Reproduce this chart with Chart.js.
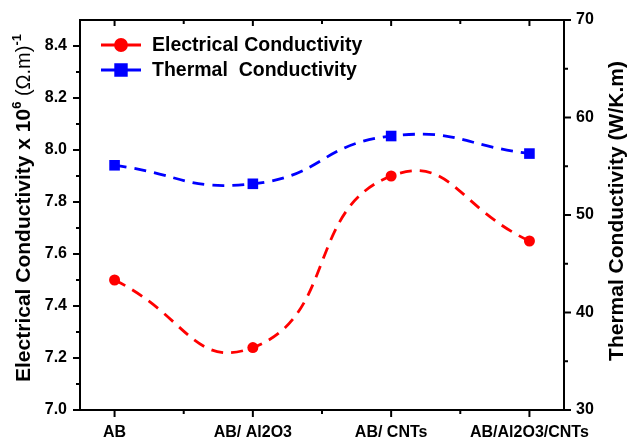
<!DOCTYPE html>
<html>
<head>
<meta charset="utf-8">
<script src="https://cdn.jsdelivr.net/npm/chart.js@4"></script>
<style>
  html, body { margin: 0; padding: 0; background: #fff; }
  #wrap { width: 627px; height: 440px; }
</style>
</head>
<body>
<div id="wrap"><canvas id="graph" width="627" height="440"></canvas></div>
<script>
const categories = ['AB', 'AB/ Al2O3', 'AB/ CNTs', 'AB/Al2O3/CNTs'];
const electrical = [7.50, 7.24, 7.90, 7.65];
const thermal = [55.1, 53.2, 58.1, 56.3];
const leftTicks = [7.0, 7.2, 7.4, 7.6, 7.8, 8.0, 8.2, 8.4];
const leftMinor = [7.1, 7.3, 7.5, 7.7, 7.9, 8.1, 8.3];
const rightTicks = [30, 40, 50, 60, 70];
const rightMinor = [35, 45, 55, 65];
const xMinor = [0.5, 1.5, 2.5];

const FONT = "'Liberation Sans', Arial, sans-serif";

// draws major / minor tick marks and the top frame line
const tickMarks = {
    id: 'tickMarks',
    afterDraw(chart) {
        const ctx = chart.ctx;
        const a = chart.chartArea;
        const x = chart.scales.x, y = chart.scales.y, y2 = chart.scales.y2;
        function line(x1, y1, x2, y2_) {
            ctx.beginPath(); ctx.moveTo(x1, y1); ctx.lineTo(x2, y2_); ctx.stroke();
        }
        ctx.save();
        ctx.strokeStyle = '#000';
        ctx.lineWidth = 2;
        line(a.left - 1, a.top, a.right + 1, a.top);
        categories.forEach((c, i) => {
            const px = x.getPixelForValue(i);
            line(px, a.bottom, px, a.bottom + 7);
            line(px, a.top, px, a.top + 6);
        });
        xMinor.forEach(v => {
            const px = x.getPixelForValue(v);
            line(px, a.bottom, px, a.bottom + 4);
            line(px, a.top, px, a.top + 4);
        });
        leftTicks.forEach(v => {
            const py = y.getPixelForValue(v);
            line(a.left, py, a.left - 7, py);
        });
        leftMinor.forEach(v => {
            const py = y.getPixelForValue(v);
            line(a.left, py, a.left - 4, py);
        });
        rightTicks.forEach(v => {
            const py = y2.getPixelForValue(v);
            line(a.right, py, a.right + 7, py);
        });
        rightMinor.forEach(v => {
            const py = y2.getPixelForValue(v);
            line(a.right, py, a.right + 4, py);
        });
        ctx.restore();
    }
};

// axis titles, both rotated to read bottom-to-top, with superscripts
const axisTitles = {
    id: 'axisTitles',
    afterDraw(chart) {
        const ctx = chart.ctx;
        const parts = [
            { t: 'Electrical Conductivity x 10', f: 'bold 21px ' + FONT, dy: 0 },
            { t: '6', f: 'bold 13px ' + FONT, dy: -9 },
            { t: ' (\u03A9.m)', f: '20px ' + FONT, dy: 0 },
            { t: '-1', f: 'bold 13px ' + FONT, dy: -9 }
        ];
        ctx.save();
        ctx.fillStyle = '#000';
        ctx.textBaseline = 'alphabetic';
        let total = 0;
        parts.forEach(p => { ctx.font = p.f; p.w = ctx.measureText(p.t).width; total += p.w; });
        ctx.translate(30, 208);
        ctx.rotate(-Math.PI / 2);
        let cx = -total / 2;
        parts.forEach(p => {
            ctx.font = p.f;
            ctx.fillText(p.t, cx, p.dy);
            cx += p.w;
        });
        ctx.setTransform(1, 0, 0, 1, 0, 0);
        ctx.font = 'bold 21px ' + FONT;
        ctx.textAlign = 'center';
        ctx.translate(623, 211);
        ctx.rotate(-Math.PI / 2);
        ctx.fillText('Thermal Conductivity (W/K.m)', 0, 0);
        ctx.restore();
    }
};

// legend drawn inside the plot, top left
const innerLegend = {
    id: 'innerLegend',
    afterDraw(chart) {
        const ctx = chart.ctx;
        ctx.save();
        ctx.font = 'bold 19.5px ' + FONT;
        ctx.textBaseline = 'middle';
        chart.data.datasets.forEach((ds, i) => {
            const ly = 45 + i * 25;
            ctx.strokeStyle = ds.borderColor;
            ctx.lineWidth = 2.8;
            ctx.setLineDash([]);
            ctx.beginPath(); ctx.moveTo(101, ly); ctx.lineTo(141, ly); ctx.stroke();
            Chart.helpers.drawPoint(ctx, {
                pointStyle: ds.pointStyle, radius: ds.pointRadius, borderWidth: 1
            }, 121, ly);
            ctx.fillStyle = ds.borderColor;
            ctx.fill();
            ctx.fillStyle = '#000';
            ctx.fillText(ds.label, 152, ly + 1);
        });
        ctx.restore();
    }
};

const ctx = document.getElementById('graph').getContext('2d');
const tickFont = { family: FONT, size: 16, weight: 'bold' };

new Chart(ctx, {
    type: 'line',
    data: {
        datasets: [{
            label: 'Electrical Conductivity',
            data: electrical.map((v, i) => ({ x: i, y: v })),
            yAxisID: 'y',
            borderColor: '#ff0000',
            backgroundColor: '#ff0000',
            borderWidth: 2.8,
            borderDash: [12, 8],
            tension: 0.52,
            pointStyle: 'circle',
            pointRadius: 5.5,
            pointBorderWidth: 0,
            fill: false
        }, {
            label: 'Thermal  Conductivity',
            data: thermal.map((v, i) => ({ x: i, y: v })),
            yAxisID: 'y2',
            borderColor: '#0000ff',
            backgroundColor: '#0000ff',
            borderWidth: 2.8,
            borderDash: [12, 8],
            tension: 0.5,
            pointStyle: 'rect',
            pointRadius: 7.5,
            pointBorderWidth: 0,
            fill: false
        }]
    },
    options: {
        responsive: false,
        animation: false,
        devicePixelRatio: 1,
        layout: { padding: { top: 20, left: 0, right: 0, bottom: 0 } },
        plugins: {
            legend: { display: false },
            tooltip: { enabled: false }
        },
        scales: {
            x: {
                type: 'linear',
                min: -0.25,
                max: 3.25,
                afterBuildTicks: s => { s.ticks = categories.map((c, i) => ({ value: i })); },
                afterFit: s => { s.height = 30; },
                grid: { display: false },
                border: { display: true, color: '#000', width: 2 },
                ticks: {
                    color: '#000',
                    font: tickFont,
                    padding: 5,
                    maxRotation: 0,
                    callback: v => categories[v]
                }
            },
            y: {
                position: 'left',
                min: 7.0,
                max: 8.5,
                afterBuildTicks: s => { s.ticks = leftTicks.map(v => ({ value: v })); },
                afterFit: s => { s.width = 80; },
                grid: { display: false },
                border: { display: true, color: '#000', width: 2 },
                ticks: {
                    color: '#000',
                    font: tickFont,
                    padding: 5,
                    callback: v => v.toFixed(1)
                }
            },
            y2: {
                position: 'right',
                min: 30,
                max: 70,
                afterBuildTicks: s => { s.ticks = rightTicks.map(v => ({ value: v })); },
                afterFit: s => { s.width = 63; },
                grid: { display: false },
                border: { display: true, color: '#000', width: 2 },
                ticks: {
                    color: '#000',
                    font: tickFont,
                    padding: 4,
                    callback: v => String(v)
                }
            }
        }
    },
    plugins: [tickMarks, axisTitles, innerLegend]
});
</script>
</body>
</html>
